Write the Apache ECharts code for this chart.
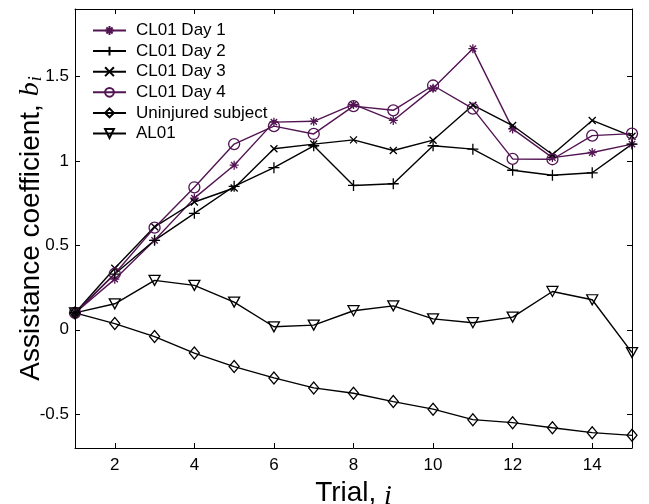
<!DOCTYPE html>
<html>
<head>
<meta charset="utf-8">
<script src="https://cdn.jsdelivr.net/npm/echarts@6/dist/echarts.min.js"></script>
<style>
html, body { margin: 0; padding: 0; background: #fff; }
#main { width: 649px; height: 504px; }
</style>
</head>
<body>
<div id="main"></div>
<script>
// 資料
var trials = [1, 2, 3, 4, 5, 6, 7, 8, 9, 10, 11, 12, 13, 14, 15];
var day1 = [0.1, 0.30, 0.53, 0.78, 0.975, 1.23, 1.235, 1.335, 1.24, 1.43, 1.665, 1.19, 1.02, 1.05, 1.10];
var day2 = [0.1, 0.33, 0.53, 0.69, 0.85, 0.96, 1.09, 0.855, 0.865, 1.09, 1.07, 0.945, 0.915, 0.93, 1.10];
var day3 = [0.1, 0.365, 0.61, 0.757, 0.84, 1.072, 1.10, 1.125, 1.062, 1.123, 1.33, 1.21, 1.038, 1.24, 1.146];
var day4 = [0.1, 0.332, 0.605, 0.844, 1.10, 1.206, 1.16, 1.325, 1.30, 1.447, 1.31, 1.012, 1.01, 1.15, 1.162];
var uninjured = [0.1, 0.037, -0.04, -0.138, -0.218, -0.285, -0.344, -0.376, -0.425, -0.47, -0.532, -0.55, -0.58, -0.609, -0.625];
var al01 = [0.1, 0.154, 0.293, 0.263, 0.164, 0.018, 0.028, 0.113, 0.142, 0.065, 0.042, 0.075, 0.227, 0.178, -0.135];
var xTicks = [2, 4, 6, 8, 10, 12, 14];
var yTicks = [-0.5, 0, 0.5, 1, 1.5];

var purple = '#521452';
var font = 'Liberation Sans, Arial, sans-serif';

// 標記符號
var symPlus = 'path://M0,-1L0,1M-1,0L1,0';
var symCross = 'path://M-1,-1L1,1M-1,1L1,-1';
var symStar = 'path://M0,-1L0,1M-1,0L1,0M-0.7,-0.7L0.7,0.7M-0.7,0.7L0.7,-0.7';
var symTri = 'path://M-1,-0.9L1,-0.9L0,0.9Z';

function pairs(ys) {
    return trials.map(function (t, i) { return [t, ys[i]]; });
}

function makeSeries(name, ys, color, symbol, size) {
    return {
        name: name,
        type: 'line',
        data: pairs(ys),
        symbol: symbol,
        symbolSize: size,
        showAllSymbol: true,
        animation: false,
        lineStyle: { color: color, width: 1.4 },
        itemStyle: { color: 'none', borderColor: color, borderWidth: 1.3 },
        emphasis: { disabled: true },
        z: 3
    };
}

var chart = echarts.init(document.getElementById('main'));

function axisBase(show) {
    return {
        axisLine: { show: true, onZero: false, lineStyle: { color: '#000', width: 1 } },
        axisTick: { show: true, inside: true, length: 5, lineStyle: { color: '#000' } },
        splitLine: { show: false },
        axisLabel: { show: show, color: '#000', fontSize: 17, fontFamily: font }
    };
}

var xMain = axisBase(true);
xMain.type = 'value'; xMain.min = 1; xMain.max = 15; xMain.position = 'bottom';
xMain.axisTick.customValues = xTicks;
xMain.axisLabel.customValues = xTicks;
xMain.axisLabel.margin = 9;
xMain.name = '{t|Trial, }{i|i}';
xMain.nameLocation = 'middle';
xMain.nameGap = 21;
xMain.nameTextStyle = {
    color: '#000',
    rich: {
        t: { fontSize: 28, fontFamily: font, color: '#000' },
        i: { fontSize: 28, fontFamily: 'Liberation Serif, serif', fontStyle: 'italic', color: '#000', padding: [8, 0, 0, 0] }
    }
};

var xTop = axisBase(false);
xTop.type = 'value'; xTop.min = 1; xTop.max = 15; xTop.position = 'top';
xTop.axisTick.customValues = xTicks;

var yMain = axisBase(true);
yMain.type = 'value'; yMain.min = -0.7; yMain.max = 1.9; yMain.position = 'left';
yMain.axisTick.customValues = yTicks;
yMain.axisLabel.customValues = yTicks;
yMain.axisLabel.margin = 6;
yMain.name = '{t|Assistance coefficient, }{b|b}{s|i}';
yMain.nameLocation = 'middle';
yMain.nameRotate = 90;
yMain.nameGap = 30;
yMain.nameMoveOverlap = false;
yMain.nameTextStyle = {
    color: '#000',
    rich: {
        t: { fontSize: 28, fontFamily: font, color: '#000' },
        b: { fontSize: 28, fontFamily: 'Liberation Serif, serif', fontStyle: 'italic', color: '#000' },
        s: { fontSize: 18, fontFamily: 'Liberation Serif, serif', fontStyle: 'italic', color: '#000', padding: [10, 0, 0, 1] }
    }
};

var yRight = axisBase(false);
yRight.type = 'value'; yRight.min = -0.7; yRight.max = 1.9; yRight.position = 'right';
yRight.axisTick.customValues = yTicks;

var option = {
    animation: false,
    backgroundColor: '#fff',
    grid: { left: 75, right: 17, top: 9, bottom: 56, containLabel: false, outerBoundsMode: 'none' },
    legend: {
        orient: 'vertical',
        left: 92,
        top: 22,
        padding: 0,
        itemWidth: 33,
        itemHeight: 11,
        itemGap: 3.6,
        selectedMode: false,
        textStyle: { color: '#000', fontSize: 17, fontFamily: font, padding: [0, 0, 0, 5] },
        data: ['CL01 Day 1', 'CL01 Day 2', 'CL01 Day 3', 'CL01 Day 4', 'Uninjured subject', 'AL01']
    },
    xAxis: [xMain, xTop],
    yAxis: [yMain, yRight],
    series: [
        makeSeries('CL01 Day 1', day1, purple, symStar, 9),
        makeSeries('CL01 Day 2', day2, '#000', symPlus, 11),
        makeSeries('CL01 Day 3', day3, '#000', symCross, 7),
        makeSeries('CL01 Day 4', day4, purple, 'circle', 11),
        makeSeries('Uninjured subject', uninjured, '#000', 'diamond', [10, 12]),
        makeSeries('AL01', al01, '#000', symTri, [11, 10])
    ]
};

chart.setOption(option);
</script>
</body>
</html>
